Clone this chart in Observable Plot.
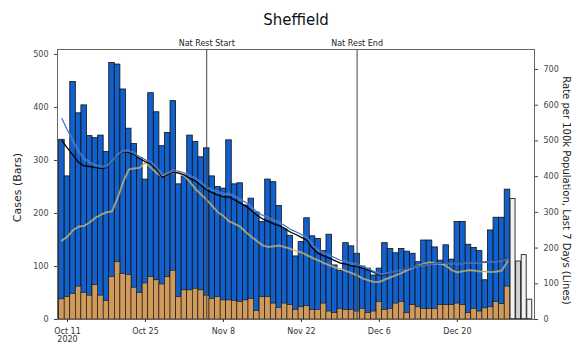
<!DOCTYPE html>
<html><head><meta charset="utf-8">
<script src="https://cdn.jsdelivr.net/npm/d3@7"></script>
<script src="https://cdn.jsdelivr.net/npm/@observablehq/plot@0.6"></script>
<style>body{margin:0;background:#fff;} svg{font-family:"DejaVu Sans",sans-serif;}</style>
</head><body><div id="chart"></div>
<script>
const title = "Sheffield";
const startDate = "2020-10-10";
// daily cases (bars), Oct 10 2020 .. Jan 2 2021
const cases = [339,270,448,389,404,346,342,347,316,484,481,434,360,331,305,264,427,391,327,352,412,255,270,347,335,306,323,270,250,247,338,255,257,215,228,202,184,264,259,214,170,158,119,146,191,157,152,129,160,102,92,144,138,124,100,96,83,96,144,133,125,133,128,124,108,149,149,136,111,140,113,184,184,141,135,129,74,168,192,192,245,228,110,122,38];
// orange subset of the bars
const subset = [38,42,48,62,50,45,65,45,35,80,108,86,84,60,50,68,80,74,66,80,92,42,55,55,58,55,45,39,42,36,36,35,33,36,39,16,42,42,30,22,30,27,18,23,25,18,18,30,15,12,20,18,18,15,20,12,15,33,18,20,30,33,12,27,23,20,20,20,27,27,27,30,27,12,20,15,21,23,33,29,62];
// number of complete (coloured) bars; the rest are incomplete
const completeDays = 81;
const incompleteFills = ["#f2f2f2","#d2d2d2","#f2f2f2","#f2f2f2"];
// rate per 100k, last 7 days (lines)
const rateBlack = [501,480,460,440,430,428,425,423,425,440,458,470,468,462,450,442,435,420,398,405,413,410,405,395,388,375,362,355,348,343,343,335,326,318,305,292,282,275,268,263,255,245,238,230,222,200,185,178,172,165,158,155,150,148,144,138,132,124,126,130,135,138,142,146,150,153,156,157,157,158,158,158,159,160,160,160,161,163,164,166,172];
const rateBlue = [563,530,500,470,450,440,432,428,428,442,460,472,472,466,455,447,440,425,405,410,418,415,410,402,395,383,370,363,357,352,352,345,336,328,315,302,292,285,278,272,263,253,246,238,230,208,194,187,180,173,166,162,157,154,149,142,135,127,128,131,135,138,141,145,149,152,155,156,156,157,157,157,158,159,159,159,160,162,163,165,170];
const rateGold = [221,232,250,260,262,272,285,293,300,303,340,385,420,423,425,440,425,410,400,405,413,410,402,385,365,350,335,318,300,290,275,268,260,245,232,220,208,203,205,207,203,198,192,188,180,172,166,158,152,146,142,136,130,124,115,110,105,105,112,118,124,130,138,145,152,156,160,158,157,150,138,132,135,138,137,135,134,133,134,137,163];
const tickDates = ["2020-10-11","2020-10-25","2020-11-08","2020-11-22","2020-12-06","2020-12-20"];
const tickLabels = ["Oct 11\n2020","Oct 25","Nov 8","Nov 22","Dec 6","Dec 20"];
const eventDates = ["2020-11-05","2020-12-02"];
const eventLabels = ["Nat Rest Start","Nat Rest End"];
const caseTicks = [0,100,200,300,400,500];
const rateTicks = [0,100,200,300,400,500,600,700];
const caseMax = 509.4;
const rateMax = 756;

const DAY = 864e5;
const t0 = new Date(startDate + "T00:00:00Z").getTime();
const k = caseMax / rateMax;
const bars = cases.map((c, i) => ({
  x1: new Date(t0 + (i - 0.5) * DAY), x2: new Date(t0 + (i + 0.5) * DAY),
  cases: c, sub: i < subset.length ? subset[i] : 0, complete: i < completeDays,
  fill: i < completeDays ? null : incompleteFills[i - completeDays]
}));
const mkLine = arr => arr.map((v, i) => ({date: new Date(t0 + i * DAY), v: v * k}));
const lineBlack = mkLine(rateBlack), lineBlue = mkLine(rateBlue), lineGold = mkLine(rateGold);
const events = eventDates.map((d, i) => ({date: new Date(d + "T00:00:00Z"), label: eventLabels[i]}));
const tickMap = new Map(tickDates.map((d, i) => [new Date(d + "T00:00:00Z").getTime(), tickLabels[i]]));

const chart = Plot.plot({
  width: 573, height: 350,
  marginLeft: 57, marginRight: 39, marginTop: 49, marginBottom: 31,
  style: {background: "#fff", overflow: "visible"},
  x: {type: "utc", domain: [new Date(t0 - 0.79 * DAY), new Date(t0 + 84.85 * DAY)]},
  y: {domain: [0, caseMax]},
  marks: [
    Plot.rect(bars.filter(d => d.complete), {x1: "x1", x2: "x2", y1: 0, y2: "cases", fill: "#1260cc", stroke: "#111", strokeWidth: 0.8, inset: 0}),
    Plot.rect(bars.filter(d => d.complete), {x1: "x1", x2: "x2", y1: 0, y2: "sub", fill: "#cf9a5c", stroke: "#111", strokeWidth: 0.6, inset: 0}),
    Plot.rect(bars.filter(d => !d.complete), {x1: "x1", x2: "x2", y1: 0, y2: "cases", fill: d => d.fill, stroke: "#222", strokeWidth: 0.9, inset: 0.3}),
    Plot.lineY(lineGold, {x: "date", y: "v", stroke: "#fff", strokeWidth: 2.2, strokeOpacity: 0.3}),
    Plot.lineY(lineGold, {x: "date", y: "v", stroke: "#c4a444", strokeWidth: 1.1}),
    Plot.lineY(lineBlack, {x: "date", y: "v", stroke: "#000", strokeWidth: 1.3}),
    Plot.lineY(lineBlue, {x: "date", y: "v", stroke: "#fff", strokeWidth: 2.2, strokeOpacity: 0.3}),
    Plot.lineY(lineBlue, {x: "date", y: "v", stroke: "#2a68c8", strokeWidth: 1.1}),
    Plot.ruleX(events, {x: "date", stroke: "#444", strokeWidth: 1}),
    Plot.text(events, {x: "date", text: "label", frameAnchor: "top", dy: -9, fontSize: 8, fill: "#222"}),
    Plot.frame({stroke: "#666", strokeWidth: 1}),
    Plot.axisY({ticks: caseTicks, tickSize: 3, fontSize: 8, label: null, color: "#444"}),
    Plot.axisY({anchor: "right", ticks: rateTicks.map(r => r * k), tickFormat: d => String(Math.round(d / k)), tickSize: 3, fontSize: 8, label: null, color: "#444"}),
    Plot.axisX({ticks: tickDates.map(d => new Date(d + "T00:00:00Z")), tickFormat: d => tickMap.get(d.getTime()), tickSize: 3, fontSize: 8, label: null, color: "#333"}),
    Plot.text([title], {frameAnchor: "top", dy: -35, fontSize: 15, fill: "#111", text: d => d}),
    Plot.text(["Cases (Bars)"], {frameAnchor: "left", dx: -40, dy: 3, rotate: -90, textAnchor: "middle", lineAnchor: "middle", fontSize: 11, fill: "#222", text: d => d}),
    Plot.text(["Rate per 100k Population, Last 7 Days (Lines)"], {frameAnchor: "right", dx: 32, dy: 6, rotate: 90, textAnchor: "middle", lineAnchor: "middle", fontSize: 10, fill: "#222", text: d => d})
  ]
});
document.getElementById("chart").appendChild(chart);
</script>
</body></html>
